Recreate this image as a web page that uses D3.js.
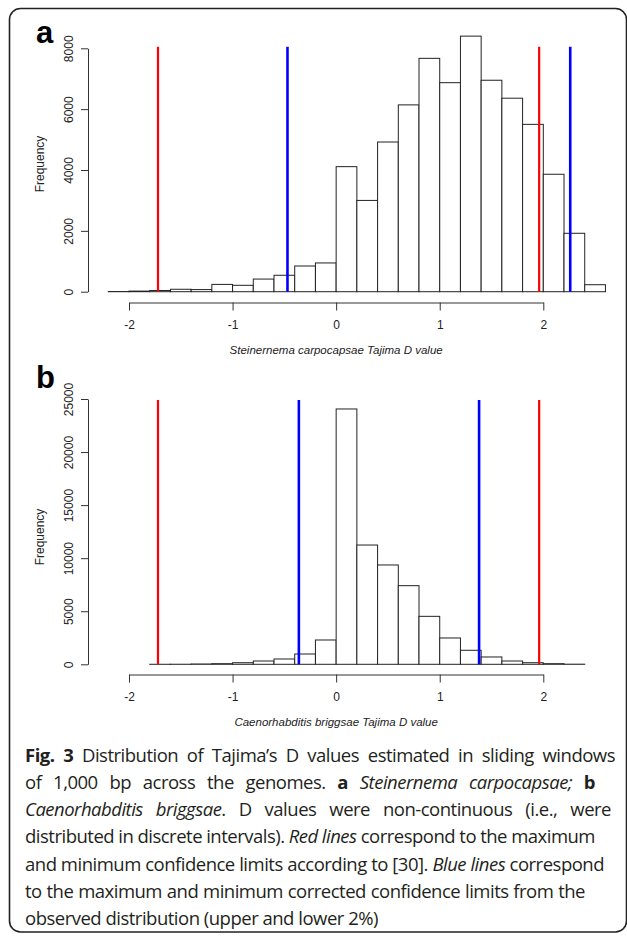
<!DOCTYPE html>
<html>
<head>
<meta charset="utf-8">
<script src="https://cdn.jsdelivr.net/npm/d3@7"></script>
<style>
  body { margin: 0; background: #fff; }
  svg { display: block; }
</style>
</head>
<body>
<svg id="fig" width="627" height="936"></svg>
<script>
// histogram bins (Tajima's D), shared by both panels
const binEdges = [-2.2, -2.0, -1.8, -1.6, -1.4, -1.2, -1.0, -0.8, -0.6, -0.4, -0.2, 0,
  0.2, 0.4, 0.6, 0.8, 1.0, 1.2, 1.4, 1.6, 1.8, 2.0, 2.2, 2.4, 2.6];

const countsA = [5, 20, 40, 80, 70, 240, 210, 415, 540, 845, 945, 4110,
  3000, 4920, 6140, 7670, 6870, 8400, 6950, 6360, 5500, 3860, 1920, 230];
const countsB = [0, 0, 2, 5, 30, 60, 150, 310, 500, 970, 2290, 24060,
  11240, 9360, 7410, 4520, 2480, 1320, 690, 310, 150, 60, 10, 0];

// confidence limits
const redA = [-1.72, 1.96];
const blueA = [-0.47, 2.26];
const redB = [-1.72, 1.96];
const blueB = [-0.36, 1.38];
const limitTopA = 8050;
const limitTopB = 24900;

const xTicks = [-2, -1, 0, 1, 2];
const yTicksA = [0, 2000, 4000, 6000, 8000];
const yTicksB = [0, 5000, 10000, 15000, 20000, 25000];

const captionLines = [
  [["b", "Fig. 3"], ["n", " Distribution of Tajima’s D values estimated in sliding windows"]],
  [["n", "of 1,000 bp across the genomes. "], ["b", "a"], ["n", " "], ["i", "Steinernema carpocapsae;"], ["n", " "], ["b", "b"]],
  [["i", "Caenorhabditis briggsae"], ["n", ". D values were non-continuous (i.e., were"]],
  [["n", "distributed in discrete intervals). "], ["i", "Red lines"], ["n", " correspond to the maximum"]],
  [["n", "and minimum confidence limits according to [30]. "], ["i", "Blue lines"], ["n", " correspond"]],
  [["n", "to the maximum and minimum corrected confidence limits from the"]],
  [["n", "observed distribution (upper and lower 2%)"]]
];
const captionRight = [615, 595, 611, 595, 604, 585, null];

const svg = d3.select("#fig");
const axisFont = "'Liberation Sans', Arial, sans-serif";

// outer frame
svg.append("rect")
  .attr("x", 9.5).attr("y", 8.5)
  .attr("width", 617).attr("height", 923.5)
  .attr("rx", 11)
  .attr("fill", "none")
  .attr("stroke", "#222")
  .attr("stroke-width", 1.6);

const x = d3.scaleLinear().domain([-2, 2]).range([129, 543.3]);

function drawPanel(opt) {
  const y = d3.scaleLinear().domain(opt.yDomain).range(opt.yRange);
  const g = svg.append("g");
  const bins = opt.counts.map((c, i) => ({ x0: binEdges[i], x1: binEdges[i + 1], n: c }));

  g.selectAll("rect.bar")
    .data(bins)
    .join("rect")
    .attr("class", "bar")
    .attr("x", (d) => x(d.x0))
    .attr("width", (d) => x(d.x1) - x(d.x0))
    .attr("y", (d) => y(d.n))
    .attr("height", (d) => y(0) - y(d.n))
    .attr("fill", "#fff")
    .attr("stroke", "#222")
    .attr("stroke-width", 1);

  const limits = opt.red.map((v) => ({ v, c: "#ff0000", w: 2.2 }))
    .concat(opt.blue.map((v) => ({ v, c: "#0000ff", w: 2.6 })));
  g.selectAll("line.limit")
    .data(limits)
    .join("line")
    .attr("class", "limit")
    .attr("x1", (d) => x(d.v)).attr("x2", (d) => x(d.v))
    .attr("y1", y(0)).attr("y2", y(opt.limitTop))
    .attr("stroke", (d) => d.c)
    .attr("stroke-width", (d) => d.w);

  // y axis
  const ya = g.append("g")
    .attr("transform", "translate(88,0)")
    .call(d3.axisLeft(y).tickValues(opt.yTicks).tickSize(7).tickSizeOuter(0).tickFormat((d) => String(d)));
  ya.select(".domain").attr("stroke", "#333");
  ya.selectAll(".tick line").attr("stroke", "#333");
  ya.selectAll(".tick text")
    .attr("x", null).attr("dy", null)
    .attr("text-anchor", "middle")
    .attr("transform", "translate(-15,0) rotate(-90)")
    .attr("fill", "#222")
    .style("font", `12px ${axisFont}`);

  // x axis
  const xa = g.append("g")
    .attr("transform", `translate(0,${opt.axisY})`)
    .call(d3.axisBottom(x).tickValues(xTicks).tickSize(8).tickSizeOuter(0).tickFormat((d) => String(d)));
  xa.select(".domain").attr("stroke", "#333");
  xa.selectAll(".tick line").attr("stroke", "#333");
  xa.selectAll(".tick text")
    .attr("y", 26.5).attr("dy", null)
    .attr("fill", "#222")
    .style("font", `12px ${axisFont}`);

  svg.append("text")
    .attr("x", x(0)).attr("y", opt.axisY + 51)
    .attr("text-anchor", "middle")
    .attr("fill", "#222")
    .style("font", `italic 11.5px ${axisFont}`)
    .text(opt.xTitle);

  svg.append("text")
    .attr("transform", `translate(43.5,${opt.ylabY}) rotate(-90)`)
    .attr("text-anchor", "middle")
    .attr("fill", "#222")
    .style("font", `12px ${axisFont}`)
    .text("Frequency");

  svg.append("text")
    .attr("x", 36).attr("y", opt.letterY)
    .attr("fill", "#000")
    .style("font", `bold 31px ${axisFont}`)
    .text(opt.letter);
}

drawPanel({
  counts: countsA, yDomain: [0, 8000], yRange: [291.7, 48.3], yTicks: yTicksA,
  red: redA, blue: blueA, limitTop: limitTopA, axisY: 302.5,
  xTitle: "Steinernema carpocapsae Tajima D value", ylabY: 164, letter: "a", letterY: 43
});
drawPanel({
  counts: countsB, yDomain: [0, 25000], yRange: [664.3, 399], yTicks: yTicksB,
  red: redB, blue: blueB, limitTop: limitTopB, axisY: 674.5,
  xTitle: "Caenorhabditis briggsae Tajima D value", ylabY: 537, letter: "b", letterY: 388
});

// caption
const cap = svg.append("g").style("font-family", "'Open Sans', 'Noto Sans', sans-serif")
  .style("font-size", "18.5px").style("letter-spacing", "-0.5px").attr("fill", "#231f20");
captionLines.forEach((segs, i) => {
  const t = cap.append("text").attr("x", 25).attr("y", 761.5 + i * 27.3);
  segs.forEach(([s, str]) => {
    t.append("tspan")
      .attr("font-weight", s === "b" ? "bold" : null)
      .attr("font-style", s === "i" ? "italic" : null)
      .text(str);
  });
  const target = captionRight[i];
  if (target) {
    const natural = t.node().getComputedTextLength();
    const spaces = segs.map((d) => d[1]).join("").split(" ").length - 1;
    if (spaces > 0) t.style("word-spacing", `${(target - 25 - natural) / spaces}px`);
  }
});
</script>
</body>
</html>
